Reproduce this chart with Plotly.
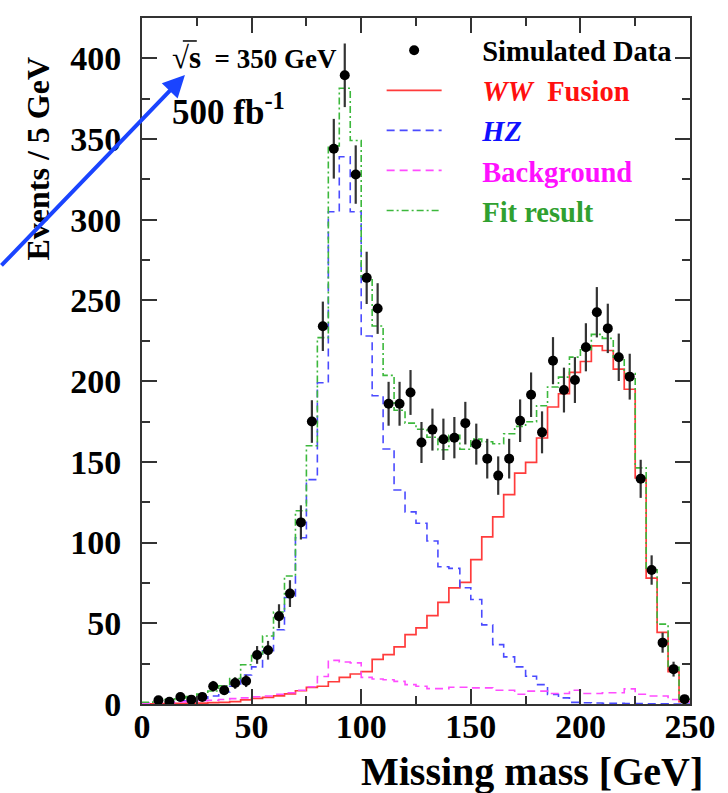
import plotly.graph_objects as go

# ---------------- data ----------------
bin_edges = list(range(0, 255, 5))               # 0 ... 250 GeV, 5 GeV bins
bin_centers = [e + 2.5 for e in range(0, 250, 5)]

ww_fusion = [0.1, 0.2, 0.3, 0.4, 0.5, 0.6, 0.8, 1.0, 1.5, 2.5,
             3.5, 4.1, 5.0, 6.3, 8.2, 10.3, 11.0, 13.8, 16.5, 18.6,
             20.0, 27.7, 30.6, 35.4, 43.0, 47.2, 54.8, 63.0, 72.0, 75.4,
             89.4, 103.5, 115.9, 129.7, 143.0, 149.7, 164.8, 184.0, 192.2, 205.4,
             212.2, 221.9, 219.0, 207.5, 195.0, 140.0, 78.0, 44.4, 20.0, 1.5]

hz = [0.5, 1.0, 1.5, 2.0, 2.5, 3.5, 5.0, 7.5, 11.0, 18.0,
      23.0, 33.0, 46.0, 66.0, 103.0, 139.0, 199.0, 305.0, 339.0, 305.0,
      228.0, 191.0, 158.0, 132.6, 119.0, 112.0, 101.0, 85.0, 84.0, 72.0,
      64.7, 49.0, 36.8, 29.2, 23.0, 17.2, 12.0, 5.9, 3.8, 1.0,
      0.8, 0.6, 0.5, 0.4, 0.3, 0.3, 0.2, 0.1, 0.0, 0.0]

background = [0.5, 0.8, 1.0, 1.3, 1.6, 2.0, 2.3, 2.8, 3.3, 3.8,
              4.5, 5.0, 6.0, 7.0, 8.5, 10.7, 17.0, 27.0, 26.0, 25.5,
              16.5, 15.5, 15.0, 14.0, 12.0, 11.0, 9.5, 9.5, 10.4, 10.4,
              10.0, 10.0, 8.5, 8.5, 6.0, 8.0, 8.0, 6.5, 6.5, 8.5,
              6.5, 6.5, 7.0, 7.0, 9.4, 6.0, 5.0, 5.0, 2.8, 1.5]

fit_result = [1.1, 2.0, 2.8, 3.7, 4.6, 6.1, 8.1, 11.3, 15.8, 24.3,
              31.0, 42.1, 57.0, 79.3, 119.7, 160.0, 227.0, 345.8, 381.5, 349.1,
              264.5, 234.2, 203.6, 182.0, 174.0, 170.2, 165.3, 157.5, 166.4, 157.8,
              164.1, 162.5, 161.2, 167.4, 172.0, 174.9, 184.8, 196.4, 202.5, 214.9,
              219.5, 229.0, 226.5, 214.9, 204.7, 146.3, 83.2, 49.5, 22.8, 3.0]

sim_data = [None, 2.3, 1.4, 4.3, 2.7, 4.3, 11, 8.5, 13, 14.3,
            30.4, 33.3, 54.4, 68.4, 112.5, 175, 234, 344, 389.5, 328,
            264, 245, 186, 186, 193, 162, 170, 164, 165, 174,
            161, 152, 141.5, 152, 175.5, 191.6, 168.3, 212.7, 194.5, 200.7,
            221, 242.7, 232.7, 214.8, 202.8, 139.5, 83, 38, 21.6, 3]

sim_errors = [None, 1.5, 1.2, 2.1, 1.6, 2.1, 3.3, 2.9, 3.6, 3.8,
              5.5, 5.8, 7.4, 8.3, 10.6, 13.2, 15.3, 18.5, 19.7, 18.1,
              16.2, 15.7, 13.6, 13.6, 13.9, 12.7, 13.0, 12.8, 12.8, 13.2,
              12.7, 12.3, 11.9, 12.3, 13.2, 13.8, 13.0, 14.6, 13.9, 14.2,
              14.9, 15.6, 15.3, 14.7, 14.2, 11.8, 9.1, 6.2, 4.6, 1.7]

x_ticks = [0, 50, 100, 150, 200, 250]
y_ticks = [0, 50, 100, 150, 200, 250, 300, 350, 400]

SERIF = "Liberation Serif"
GAP = "\u00a0" * 5          # space between legend sample and legend text


def step_y(vals):
    return list(vals) + [vals[-1]]


fig = go.Figure()

fig.add_trace(go.Scatter(
    x=bin_edges, y=step_y(ww_fusion), mode="lines", line_shape="hv",
    line=dict(color="#ff3b3b", width=1.7),
    name=GAP + "<span style='color:#ff1010'><i>WW</i>  Fusion</span>", legendrank=2))
fig.add_trace(go.Scatter(
    x=bin_edges, y=step_y(hz), mode="lines", line_shape="hv",
    line=dict(color="#4b4bff", width=1.6, dash="8px,5px"),
    name=GAP + "<span style='color:#1010ff'><i>HZ</i></span>", legendrank=3))
fig.add_trace(go.Scatter(
    x=bin_edges, y=step_y(background), mode="lines", line_shape="hv",
    line=dict(color="#ff4cff", width=1.6, dash="8px,5px"),
    name=GAP + "<span style='color:#ff10ff'>Background</span>", legendrank=4))
fig.add_trace(go.Scatter(
    x=bin_edges, y=step_y(fit_result), mode="lines", line_shape="hv",
    line=dict(color="#3cb83c", width=1.6, dash="7px,3px,2px,3px"),
    name=GAP + "<span style='color:#30a030'>Fit result</span>", legendrank=5))
fig.add_trace(go.Scatter(
    x=bin_centers, y=sim_data, mode="markers",
    marker=dict(color="black", size=10, symbol="circle"),
    error_y=dict(type="data", array=sim_errors, visible=True,
                 color="#333333", thickness=2.2, width=0),
    name=GAP + "Simulated Data", legendrank=1))

axis_common = dict(
    showline=True, linecolor="#333333", linewidth=2, mirror="ticks",
    ticks="inside", ticklen=15, tickwidth=1.5, tickcolor="#333333",
    showgrid=False, zeroline=False,
    tickfont=dict(family=SERIF, size=34, color="black", weight="bold"),
    minor=dict(ticks="inside", ticklen=8, tickwidth=1.5, tickcolor="#333333", dtick=25),
)

fig.update_xaxes(range=[0, 250], tickvals=x_ticks, ticklabelstandoff=-9, **axis_common)
fig.update_yaxes(range=[0, 425], tickvals=y_ticks, ticklabelstandoff=12,
                 ticksuffix="\u00a0\u00a0\u00a0\u00a0", **axis_common)

fig.update_layout(
    width=728, height=793,
    margin=dict(l=142, r=38, t=18, b=89),
    paper_bgcolor="white", plot_bgcolor="white",
    showlegend=True,
    legend=dict(x=0.4373, y=0.9895, xanchor="left", yanchor="top",
                bgcolor="rgba(0,0,0,0)", borderwidth=0,
                font=dict(family=SERIF, size=28.5, color="black", weight="bold"),
                itemwidth=55, tracegroupgap=0),
    annotations=[
        dict(text="Events / 5 GeV", textangle=-90, xref="paper", yref="paper",
             x=-0.19, y=0.795, xanchor="center", yanchor="middle", showarrow=False,
             font=dict(family=SERIF, size=32, color="black", weight="bold")),
        dict(text="Missing mass [GeV]", xref="paper", yref="paper",
             x=1.027, y=-0.098, xanchor="right", yanchor="middle", showarrow=False,
             font=dict(family=SERIF, size=40, color="black", weight="bold")),
        dict(text="<span style='font-size:31px'>√s</span>  = 350 GeV", xref="paper", yref="paper",
             x=0.052, y=0.943, xanchor="left", yanchor="middle", showarrow=False,
             font=dict(family=SERIF, size=27, color="black", weight="bold")),
        dict(text="500 fb<sup>-1</sup>", xref="paper", yref="paper",
             x=0.052, y=0.866, xanchor="left", yanchor="middle", showarrow=False,
             font=dict(family=SERIF, size=35, color="black", weight="bold")),
        dict(text="", x=19.6, y=389.7, xref="x", yref="y", showarrow=True,
             ax=-185, ay=192, arrowhead=2, arrowsize=1.1, arrowwidth=4,
             arrowcolor="#1a44ff", standoff=0),
    ],
    shapes=[
        # overline of the square-root sign
        dict(type="line", xref="paper", yref="paper",
             x0=0.0745, x1=0.1000, y0=0.9665, y1=0.9665,
             line=dict(color="black", width=1.5)),
    ],
)

fig.write_html("out.html", config={"displayModeBar": False},
               post_script="document.body.style.margin='0px';")
